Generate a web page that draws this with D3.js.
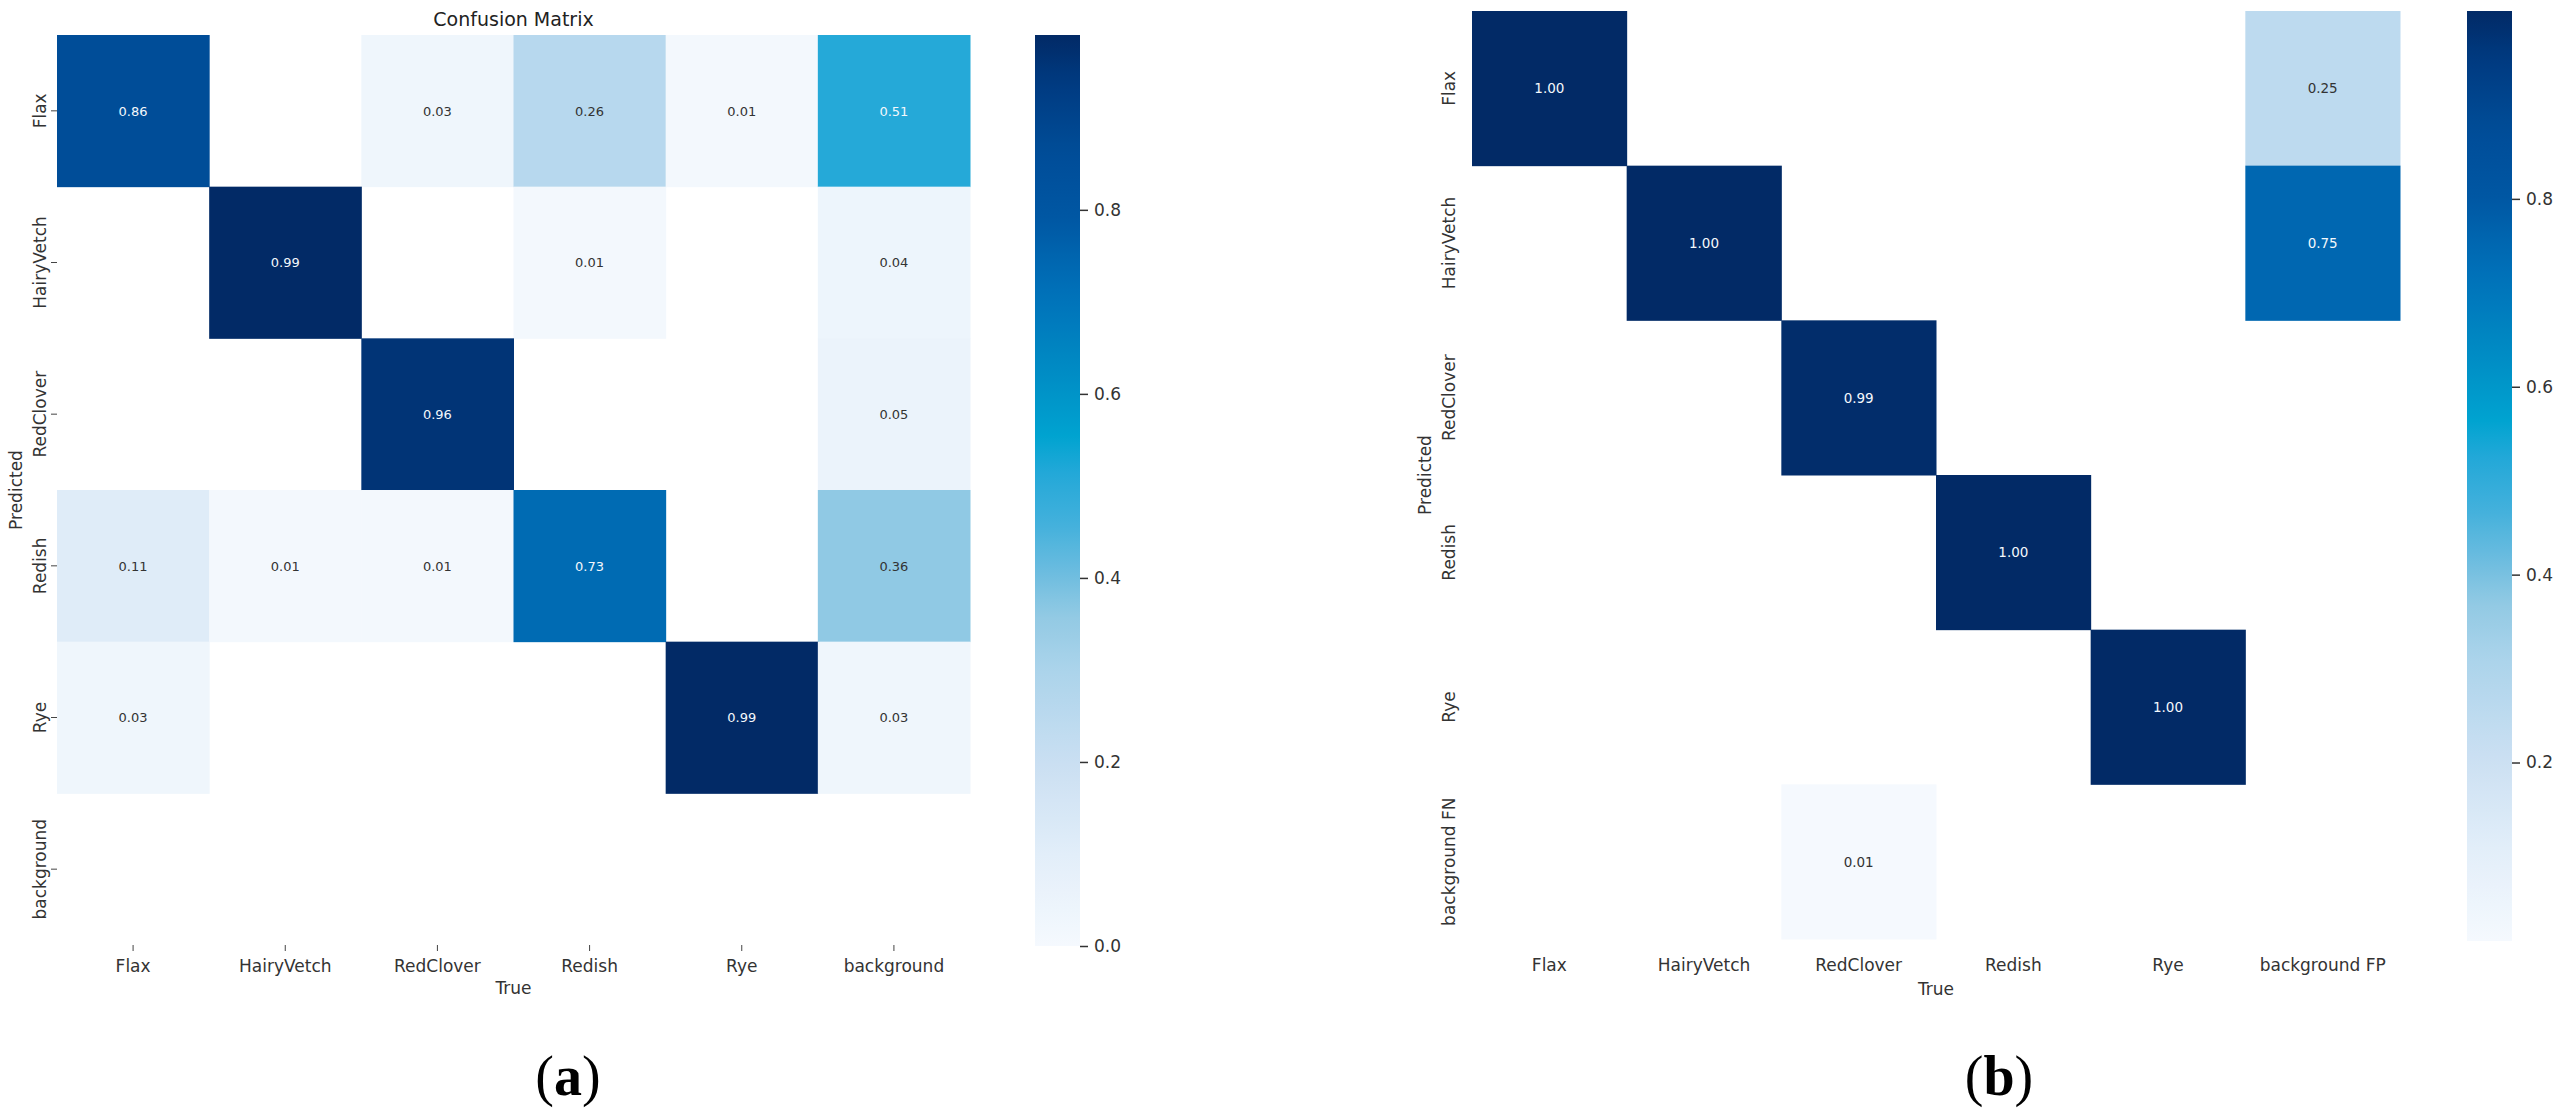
<!DOCTYPE html>
<html>
<head>
<meta charset="utf-8">
<script src="https://cdn.jsdelivr.net/npm/d3@7"></script>
<style>
  html, body { margin: 0; padding: 0; background: #ffffff; }
  svg { display: block; }
  text { font-family: "DejaVu Sans", sans-serif; }
  text.sublabel { font-family: "Liberation Serif", "Times New Roman", serif; }
</style>
</head>
<body>
<svg id="chart" width="2560" height="1120"></svg>
<script>
// ---------- data ----------
const classesA = ["Flax", "HairyVetch", "RedClover", "Redish", "Rye", "background"];
const predictedA = ["Flax", "HairyVetch", "RedClover", "Redish", "Rye", "background"];
const valuesA = [
  [0.86, 0.00, 0.03, 0.26, 0.01, 0.51],
  [0.00, 0.99, 0.00, 0.01, 0.00, 0.04],
  [0.00, 0.00, 0.96, 0.00, 0.00, 0.05],
  [0.11, 0.01, 0.01, 0.73, 0.00, 0.36],
  [0.03, 0.00, 0.00, 0.00, 0.99, 0.03],
  [0.00, 0.00, 0.00, 0.00, 0.00, 0.00]
];
const classesB = ["Flax", "HairyVetch", "RedClover", "Redish", "Rye", "background FP"];
const predictedB = ["Flax", "HairyVetch", "RedClover", "Redish", "Rye", "background FN"];
const valuesB = [
  [1.00, 0.00, 0.00, 0.00, 0.00, 0.25],
  [0.00, 1.00, 0.00, 0.00, 0.00, 0.75],
  [0.00, 0.00, 0.99, 0.00, 0.00, 0.00],
  [0.00, 0.00, 0.00, 1.00, 0.00, 0.00],
  [0.00, 0.00, 0.00, 0.00, 1.00, 0.00],
  [0.00, 0.00, 0.01, 0.00, 0.00, 0.00]
];
const colorbarTicksA = [0.0, 0.2, 0.4, 0.6, 0.8];
const colorbarTicksB = [0.2, 0.4, 0.6, 0.8];
const titleA = "Confusion Matrix";
const xLabel = "True";
const yLabel = "Predicted";

// ---------- colormap (sampled from the reference colour bar) ----------
const cmapStops = [0, 0.1, 0.2, 0.3, 0.36, 0.4, 0.46, 0.52, 0.56, 0.62, 0.72, 0.8, 0.87, 0.95, 1.0];
const cmapColors = ["#f5f9fe", "#e2eef9", "#cadff2", "#acd4eb", "#93cae4", "#74bfe0", "#45b1dc",
                    "#22a8d8", "#00a3d0", "#008fc6", "#0070b8", "#0057a3", "#004d98", "#003a80", "#022a66"];
const cmap = d3.scaleLinear().domain(cmapStops).range(cmapColors).interpolate(d3.interpolateRgb).clamp(true);

const svg = d3.select("#chart");
const defs = svg.append("defs");

function panel(cfg) {
  const g = svg.append("g");
  const x = d3.scaleBand().domain(cfg.cols).range([cfg.x0, cfg.x1]).padding(0);
  const y = d3.scaleBand().domain(cfg.rows).range([cfg.y0, cfg.y1]).padding(0);
  const norm = d3.scaleLinear().domain([cfg.vmin, cfg.vmax]).range([0, 1]).clamp(true);

  const cells = [];
  cfg.values.forEach((row, i) => row.forEach((v, j) => {
    if (v > 0) cells.push({ r: cfg.rows[i], c: cfg.cols[j], v });
  }));

  g.selectAll("rect.cell").data(cells).join("rect")
    .attr("class", "cell")
    .attr("x", d => x(d.c)).attr("y", d => y(d.r))
    .attr("width", x.bandwidth() + 0.5).attr("height", y.bandwidth() + 0.5)
    .attr("fill", d => cmap(norm(d.v)));

  g.selectAll("text.ann").data(cells).join("text")
    .attr("class", "ann")
    .attr("x", d => x(d.c) + x.bandwidth() / 2)
    .attr("y", d => y(d.r) + y.bandwidth() / 2)
    .attr("dy", "0.36em")
    .attr("text-anchor", "middle")
    .attr("font-size", cfg.annSize)
    .attr("fill", d => norm(d.v) > 0.45 ? "#f4f8fc" : "#333333")
    .text(d => d.v.toFixed(2));

  // x axis
  const xa = g.append("g").attr("transform", `translate(0,${cfg.y1})`)
    .call(d3.axisBottom(x).tickSize(cfg.tickLen).tickPadding(0));
  xa.select(".domain").remove();
  xa.selectAll(".tick line").attr("stroke", "#444").attr("stroke-width", 1);
  xa.selectAll(".tick text").attr("y", cfg.xLabBase).attr("dy", 0)
    .attr("font-size", 17).attr("fill", "#333");

  // y axis
  const ya = g.append("g").attr("transform", `translate(${cfg.x0},0)`)
    .call(d3.axisLeft(y).tickSize(cfg.tickLen).tickPadding(0));
  ya.select(".domain").remove();
  ya.selectAll(".tick line").attr("stroke", "#444").attr("stroke-width", 1);
  ya.selectAll(".tick text").attr("x", 0).attr("dy", 0)
    .attr("text-anchor", "middle")
    .attr("transform", `translate(${-cfg.yLabOff},0) rotate(-90)`)
    .attr("font-size", 17).attr("fill", "#333");

  // axis titles
  g.append("text").attr("x", (cfg.x0 + cfg.x1) / 2).attr("y", cfg.xTitleBase)
    .attr("text-anchor", "middle").attr("font-size", 17).attr("fill", "#333").text(xLabel);
  g.append("text")
    .attr("transform", `translate(${cfg.yTitleBase},${(cfg.y0 + cfg.y1) / 2}) rotate(-90)`)
    .attr("text-anchor", "middle").attr("font-size", 17).attr("fill", "#333").text(yLabel);

  if (cfg.title) {
    g.append("text").attr("x", (cfg.x0 + cfg.x1) / 2).attr("y", cfg.titleBase)
      .attr("text-anchor", "middle").attr("font-size", 19).attr("fill", "#222").text(cfg.title);
  }

  // colour bar
  const gradId = "grad" + cfg.id;
  const grad = defs.append("linearGradient").attr("id", gradId)
    .attr("x1", 0).attr("y1", 1).attr("x2", 0).attr("y2", 0);
  grad.selectAll("stop").data(d3.range(0, 1.0001, 0.02)).join("stop")
    .attr("offset", d => d).attr("stop-color", d => cmap(d));
  const cb = d3.scaleLinear().domain([cfg.vmin, cfg.vmax]).range([cfg.cbBottom, cfg.y0]);
  g.append("rect").attr("x", cfg.cbX).attr("y", cfg.y0)
    .attr("width", cfg.cbW).attr("height", cfg.cbBottom - cfg.y0)
    .attr("fill", `url(#${gradId})`);
  const ca = g.append("g").attr("transform", `translate(${cfg.cbX + cfg.cbW},0)`)
    .call(d3.axisRight(cb).tickValues(cfg.cbTicks).tickFormat(d3.format(".1f")).tickSize(8).tickPadding(6));
  ca.select(".domain").remove();
  ca.selectAll(".tick line").attr("stroke", "#333").attr("stroke-width", 1.5);
  ca.selectAll(".tick text").attr("font-size", 17).attr("fill", "#333");

  // sub-figure label
  const lab = g.append("text").attr("class", "sublabel").attr("x", cfg.labX).attr("y", 1095)
    .attr("text-anchor", "middle").attr("font-size", 56).attr("fill", "#000");
  lab.append("tspan").text("(");
  lab.append("tspan").attr("font-weight", "bold").text(cfg.letter);
  lab.append("tspan").text(")");
}

panel({
  id: "A", cols: classesA, rows: predictedA, values: valuesA,
  x0: 57, x1: 970, y0: 35, y1: 945, vmin: 0, vmax: 0.99,
  annSize: 13, tickLen: 6, xLabBase: 27, yLabOff: 11.5,
  xTitleBase: 994, yTitleBase: 22, title: titleA, titleBase: 26,
  cbX: 1035, cbW: 45, cbBottom: 946, cbTicks: colorbarTicksA,
  labX: 568, letter: "a"
});

panel({
  id: "B", cols: classesB, rows: predictedB, values: valuesB,
  x0: 1472, x1: 2400, y0: 11, y1: 939, vmin: 0.01, vmax: 1.0,
  annSize: 13.5, tickLen: 0, xLabBase: 32, yLabOff: 17,
  xTitleBase: 995, yTitleBase: 1431, title: null,
  cbX: 2467, cbW: 45, cbBottom: 941, cbTicks: colorbarTicksB,
  labX: 1999, letter: "b"
});
</script>
</body>
</html>
